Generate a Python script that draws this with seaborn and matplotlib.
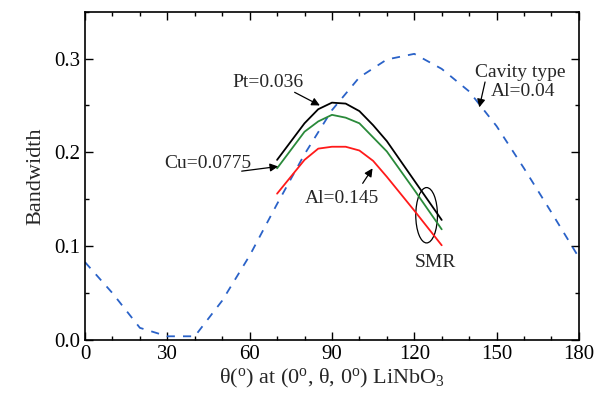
import numpy as np
import pandas as pd
import matplotlib
matplotlib.use("Agg")
import matplotlib.pyplot as plt
from matplotlib.patches import Ellipse
from matplotlib.ticker import MultipleLocator
import seaborn as sns

# ---- data ----
cavity_theta = [0, 10, 20, 30, 40, 50, 60, 70, 80, 90, 100, 110, 120, 130, 140, 150, 160, 170, 180]
cavity_bw = [0.083, 0.050, 0.013, 0.004, 0.004, 0.042, 0.090, 0.145, 0.198, 0.245, 0.280,
             0.299, 0.305, 0.289, 0.265, 0.228, 0.183, 0.136, 0.088]

smr_theta = [70, 80, 85, 90, 95, 100, 105, 110, 120, 130]
pt_bw = [0.192, 0.231, 0.246, 0.253, 0.252, 0.244, 0.229, 0.212, 0.170, 0.128]
cu_bw = [0.183, 0.222, 0.233, 0.240, 0.237, 0.231, 0.216, 0.201, 0.160, 0.118]
al_bw = [0.156, 0.192, 0.204, 0.206, 0.206, 0.202, 0.191, 0.174, 0.138, 0.101]

x_ticks = [0, 30, 60, 90, 120, 150, 180]
y_ticks = [0.0, 0.1, 0.2, 0.3]

sns.set_style("ticks")
plt.rcParams["font.family"] = ["Liberation Serif", "DejaVu Serif"]
plt.rcParams["mathtext.fontset"] = "custom"
plt.rcParams["mathtext.rm"] = "Liberation Serif"
plt.rcParams["mathtext.it"] = "Liberation Serif:italic"

fig = plt.figure(figsize=(6.03, 4.01), dpi=100)
ax = fig.add_axes([0.141, 0.152, 0.819, 0.819])

df_cav = pd.DataFrame({"theta": cavity_theta, "bw": cavity_bw})
sns.lineplot(data=df_cav, x="theta", y="bw", ax=ax, color="#2a62c8", lw=1.3,
             linestyle=(0, (4.5, 4.5)))
for vals, col in [(pt_bw, "black"), (cu_bw, "#2a8a3a"), (al_bw, "#ff1a1a")]:
    d = pd.DataFrame({"theta": smr_theta, "bw": vals})
    sns.lineplot(data=d, x="theta", y="bw", ax=ax, color=col, lw=1.3)

ax.set_xlim(0, 180)
ax.set_ylim(0, 0.35)
ax.set_xticks(x_ticks)
ax.set_xticklabels([str(t) for t in x_ticks])
ax.set_yticks(y_ticks)
ax.set_yticklabels([f"{t:.1f}" for t in y_ticks])
ax.xaxis.set_minor_locator(MultipleLocator(10))
ax.yaxis.set_minor_locator(MultipleLocator(0.05))
ax.tick_params(which="both", direction="in", top=True, right=True, labelsize=15,
               color="black", labelcolor="black", width=1)
ax.tick_params(which="major", length=6)
ax.tick_params(which="minor", length=3)
for s in ax.spines.values():
    s.set_linewidth(1.2)
    s.set_color("black")

ax.set_xlabel("θ($^{\\rm o}$) at (0$^{\\rm o}$, θ, 0$^{\\rm o}$) LiNbO$_{\\rm 3}$",
              fontsize=16, labelpad=2)
ax.set_ylabel("Bandwidth", fontsize=16, labelpad=6)

ap = dict(arrowstyle="-|>", color="black", lw=0.9, mutation_scale=12,
          shrinkA=0, shrinkB=0)

def arrow(tail, head):
    ax.annotate("", xy=head, xytext=tail, arrowprops=ap)

ax.text(66.7, 0.274, "Pt=0.036", fontsize=14, ha="center", va="center")
arrow((76.4, 0.264), (85.6, 0.250))
ax.text(44.6, 0.188, "Cu=0.0775", fontsize=14, ha="center", va="center")
arrow((57.1, 0.180), (70.4, 0.185))
ax.text(93.7, 0.151, "Al=0.145", fontsize=14, ha="center", va="center")
arrow((101.2, 0.167), (104.8, 0.183))
ax.text(158.5, 0.285, "Cavity type", fontsize=14, ha="center", va="center")
ax.text(159.6, 0.265, "Al=0.04", fontsize=14, ha="center", va="center")
arrow((145.8, 0.275), (143.7, 0.248))
ax.text(127.9, 0.083, "SMR", fontsize=14, ha="center", va="center")
ax.add_patch(Ellipse((124.5, 0.133), width=7.9, height=0.059, angle=0,
                     fill=False, edgecolor="black", lw=0.9))

fig.savefig("out.png", dpi=100)
